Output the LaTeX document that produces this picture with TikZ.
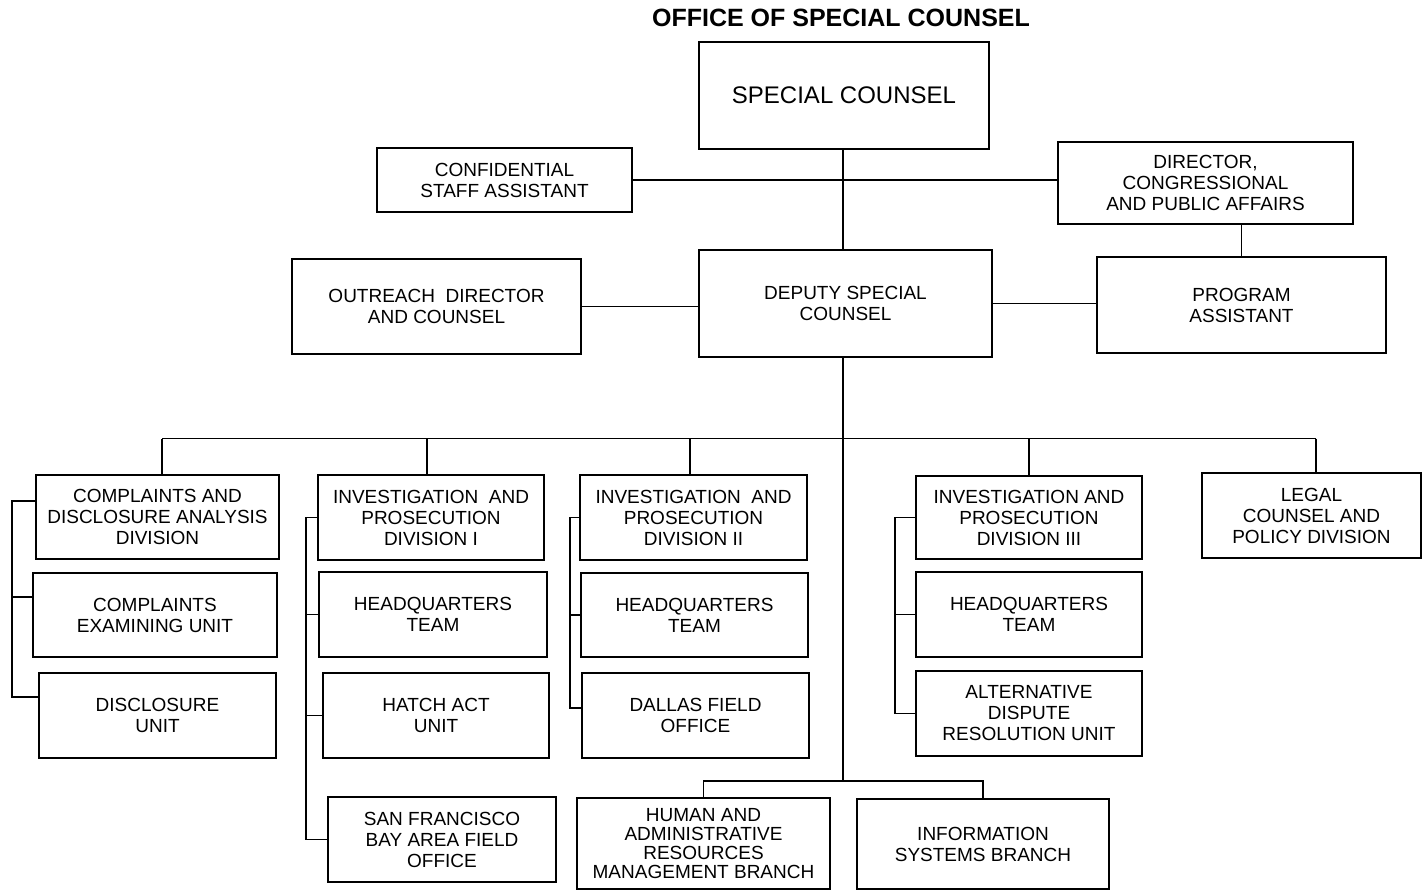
\documentclass[tikz,border=0pt]{standalone}
\usepackage{fontspec}
\setmainfont{Liberation Sans}
\usepackage{tikz}
\usetikzlibrary{calc}

\tikzset{
  unit/.style={draw, line width=1.5pt, inner sep=0pt, outer sep=0pt, align=center,
    font=\fontsize{19}{21}\selectfont},
  link/.style={line width=1.3pt}
}

\begin{document}
\begin{tikzpicture}[x=1pt, y=-1pt]
    \useasboundingbox (0,0) rectangle (1422,891);
    \node[font=\fontsize{25}{27}\bfseries] (title) at (841,18) {OFFICE OF SPECIAL COUNSEL};
    % top of the office
    \node[unit, minimum width=290, minimum height=107, font=\fontsize{24}{26}\selectfont] (sc) at (844,95.5) {SPECIAL COUNSEL};
    \node[unit, minimum width=255, minimum height=64] (csa) at (504.5,180) {CONFIDENTIAL\\STAFF ASSISTANT};
    \node[unit, minimum width=295, minimum height=82] (dir) at (1205.5,183) {DIRECTOR,\\CONGRESSIONAL\\AND PUBLIC AFFAIRS};
    \node[unit, minimum width=293, minimum height=107] (dep) at (845.5,303.5) {DEPUTY SPECIAL\\COUNSEL};
    \node[unit, minimum width=289, minimum height=95] (out) at (436.5,306.5) {OUTREACH~ DIRECTOR\\AND COUNSEL};
    \node[unit, minimum width=289, minimum height=96] (pa) at (1241.5,305) {PROGRAM\\ASSISTANT};
    % divisions
    \node[unit, minimum width=243, minimum height=84] (cdad) at (157.5,517) {COMPLAINTS AND\\DISCLOSURE ANALYSIS\\DIVISION};
    \node[unit, minimum width=244, minimum height=84] (ceu) at (155,615) {COMPLAINTS\\EXAMINING UNIT};
    \node[unit, minimum width=237, minimum height=85] (du) at (157.5,715.5) {DISCLOSURE\\UNIT};
    \node[unit, minimum width=226, minimum height=85] (ipd1) at (431,517.5) {INVESTIGATION~ AND\\PROSECUTION\\DIVISION I};
    \node[unit, minimum width=228, minimum height=85] (hq1) at (433,614.5) {HEADQUARTERS\\TEAM};
    \node[unit, minimum width=226, minimum height=85] (hatch) at (436,715.5) {HATCH ACT\\UNIT};
    \node[unit, minimum width=228, minimum height=85] (sf) at (442,839.5) {SAN FRANCISCO\\BAY AREA FIELD\\OFFICE};
    \node[unit, minimum width=227, minimum height=85] (ipd2) at (693.5,517.5) {INVESTIGATION~ AND\\PROSECUTION\\DIVISION II};
    \node[unit, minimum width=227, minimum height=84] (hq2) at (694.5,615) {HEADQUARTERS\\TEAM};
    \node[unit, minimum width=227, minimum height=85] (dal) at (695.5,715.5) {DALLAS FIELD\\OFFICE};
    \node[unit, minimum width=226, minimum height=83] (ipd3) at (1029,517.5) {INVESTIGATION AND\\PROSECUTION\\DIVISION III};
    \node[unit, minimum width=226, minimum height=85] (hq3) at (1029,614.5) {HEADQUARTERS\\TEAM};
    \node[unit, minimum width=226, minimum height=85] (adr) at (1029,713.5) {ALTERNATIVE\\DISPUTE\\RESOLUTION UNIT};
    \node[unit, minimum width=219, minimum height=85] (legal) at (1311.5,515.5) {LEGAL\\COUNSEL AND\\POLICY DIVISION};
    \node[unit, minimum width=253, minimum height=91, font=\fontsize{19}{19}\selectfont] (hr) at (703.5,843.5) {HUMAN AND\\ADMINISTRATIVE\\RESOURCES\\MANAGEMENT BRANCH};
    \node[unit, minimum width=252, minimum height=90] (info) at (983,844) {INFORMATION\\SYSTEMS BRANCH};
    % bus and spines
    \coordinate (bus) at (843,438.5);
    \coordinate (tee) at (843,781);
    \coordinate (b1) at (162,438.5);
    \coordinate (b2) at (427,438.5);
    \coordinate (b3) at (690,438.5);
    \coordinate (b4) at (1029,438.5);
    \coordinate (b5) at (1316,438.5);
    \coordinate (s1) at (12,0);
    \coordinate (s2) at (306,0);
    \coordinate (s3) at (570,0);
    \coordinate (s4) at (895,0);
    % connectors
    \draw[link] (sc.south -| bus) -- (dep.north -| bus);
    \draw[link] (csa.east) -- (csa.east -| dir.west);
    \draw[link] (pa.north) -- (pa.north |- dir.south);
    \draw[link] (out.east) -- (out.east -| dep.west);
    \draw[link] (dep.east) -- (dep.east -| pa.west);
    \draw[link] (dep.south -| bus) -- (tee);
    \draw[link] (b1) -- (b5);
    \foreach \b/\n in {b1/cdad, b2/ipd1, b3/ipd2, b4/ipd3, b5/legal}
        \draw[link] (\b) -- (\b |- \n.north);
    \draw[link] (hr.north) |- (tee) -| (info.north);
    \draw[link] ([yshift=16pt]cdad.west) -| ([yshift=18.5pt]du.west -| s1) -- ([yshift=18.5pt]du.west);
    \draw[link] ([yshift=18pt]ceu.west) -- ([yshift=18pt]ceu.west -| s1);
    \draw[link] (ipd1.west) -| (sf.west -| s2) -- (sf.west);
    \draw[link] (hq1.west) -- (hq1.west -| s2);
    \draw[link] (hatch.west) -- (hatch.west -| s2);
    \draw[link] (ipd2.west) -| ([yshift=7.5pt]dal.west -| s3) -- ([yshift=7.5pt]dal.west);
    \draw[link] (hq2.west) -- (hq2.west -| s3);
    \draw[link] (ipd3.west) -| (adr.west -| s4) -- (adr.west);
    \draw[link] (hq3.west) -- (hq3.west -| s4);
\end{tikzpicture}
\end{document}
